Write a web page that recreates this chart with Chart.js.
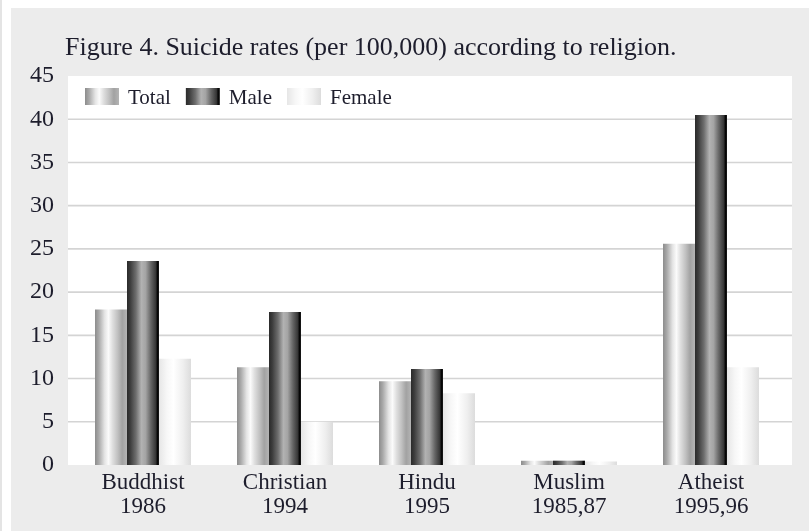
<!DOCTYPE html>
<html>
<head>
<meta charset="utf-8">
<script src="https://cdn.jsdelivr.net/npm/chart.js@4"></script>
<style>
  html, body { margin: 0; padding: 0; background: #fff; }
  #wrap { position: relative; width: 809px; height: 531px; }
</style>
</head>
<body>
<div id="wrap"><canvas id="religionChart" width="809" height="531"></canvas></div>
<script>
// Suicide rates (per 100,000) according to religion
const categories = [
    ['Buddhist', '1986'],
    ['Christian', '1994'],
    ['Hindu', '1995'],
    ['Muslim', '1985,87'],
    ['Atheist', '1995,96'],
];
const seriesNames = ['Total', 'Male', 'Female'];
const totalRates = [18.0, 11.3, 9.7, 0.5, 25.6];
const maleRates = [23.6, 17.7, 11.1, 0.5, 40.5];
const femaleRates = [12.3, 5.0, 8.3, 0.4, 11.3];
const yTicks = [0, 5, 10, 15, 20, 25, 30, 35, 40, 45];

const titleText = 'Figure 4. Suicide rates (per 100,000) according to religion.';
const textColor = '#1d1d2c';
const serif = 'Liberation Serif';
const CAT_PCT = 0.676;

// cylinder-ish shading, one per series
const shades = [
    [[0, '#8c8c8c'], [0.12, '#a9a9a9'], [0.3, '#e4e4e4'], [0.42, '#fbfbfb'], [0.55, '#dedede'], [0.7, '#c2c2c2'], [0.85, '#a2a2a2'], [1, '#b4b4b4']],
    [[0, '#2a2a2a'], [0.1, '#3c3c3c'], [0.28, '#6e6e6e'], [0.45, '#b2b2b2'], [0.58, '#a4a4a4'], [0.75, '#646464'], [0.9, '#363636'], [0.95, '#050505'], [1, '#1a1a1a']],
    [[0, '#e6e6e6'], [0.25, '#f7f7f7'], [0.45, '#ffffff'], [0.75, '#efefef'], [1, '#dcdcdc']],
];
const flatShades = ['#c4c4c4', '#6a6a6a', '#efefef'];

function makeGradient(ctx, left, width, stops) {
    const g = ctx.createLinearGradient(left, 0, left + width, 0);
    stops.forEach(s => g.addColorStop(s[0], s[1]));
    return g;
}

function barFill(context) {
    const chart = context.chart;
    const xs = chart.scales.x;
    const ds = context.datasetIndex;
    if (!xs || !chart.chartArea || context.dataIndex === undefined) return flatShades[ds];
    const catW = xs.width / categories.length;
    const barW = catW * CAT_PCT / seriesNames.length;
    const center = xs.getPixelForValue(context.dataIndex);
    const left = center - catW * CAT_PCT / 2 + ds * barW;
    return makeGradient(chart.ctx, left, barW, shades[ds]);
}

const backdropPlugin = {
    id: 'backdrop',
    beforeDraw(chart) {
        const { ctx, chartArea: a, scales } = chart;
        ctx.save();
        ctx.fillStyle = '#ffffff';
        ctx.fillRect(0, 0, chart.width, chart.height);
        ctx.fillStyle = '#e4e4e4';
        ctx.fillRect(0, 0, 2, chart.height);
        ctx.fillStyle = '#ececec';
        ctx.fillRect(11, 8, chart.width - 11, chart.height - 8);
        // white plot panel
        ctx.fillStyle = '#ffffff';
        ctx.fillRect(a.left - 4, a.top, a.right - a.left + 14, a.bottom - a.top);
        // grid lines
        ctx.strokeStyle = '#d4d4d4';
        ctx.lineWidth = 1.6;
        scales.y.ticks.forEach(t => {
            if (t.value <= 0 || t.value >= 45) return;
            const y = scales.y.getPixelForValue(t.value);
            ctx.beginPath();
            ctx.moveTo(a.left - 4, y);
            ctx.lineTo(a.right + 10, y);
            ctx.stroke();
        });
        ctx.restore();
    },
    afterDraw(chart) {
        const { ctx, chartArea: a } = chart;
        ctx.save();
        ctx.fillStyle = textColor;
        ctx.font = '26px "' + serif + '"';
        ctx.textBaseline = 'alphabetic';
        ctx.fillText(titleText, 65, 55);

        // legend inside the plot, top left
        ctx.font = '21px "' + serif + '"';
        let x = a.left + 13;
        const boxY = 88, boxW = 34, boxH = 17;
        seriesNames.forEach((name, i) => {
            ctx.fillStyle = makeGradient(ctx, x, boxW, shades[i]);
            ctx.fillRect(x, boxY, boxW, boxH);
            ctx.fillStyle = textColor;
            ctx.fillText(name, x + boxW + 9, boxY + 16);
            x += boxW + 9 + ctx.measureText(name).width + 15;
        });
        ctx.restore();
    },
};

new Chart(document.getElementById('religionChart'), {
    type: 'bar',
    data: {
        labels: categories,
        datasets: [
            { label: seriesNames[0], data: totalRates, backgroundColor: barFill },
            { label: seriesNames[1], data: maleRates, backgroundColor: barFill },
            { label: seriesNames[2], data: femaleRates, backgroundColor: barFill },
        ],
    },
    options: {
        responsive: false,
        animation: false,
        devicePixelRatio: 1,
        layout: { padding: { top: 76, right: 27, bottom: 0, left: 0 } },
        datasets: {
            bar: { categoryPercentage: CAT_PCT, barPercentage: 1, borderWidth: 0 },
        },
        plugins: {
            legend: { display: false },
            tooltip: { enabled: false },
        },
        scales: {
            x: {
                grid: { display: false, drawTicks: false, tickLength: 0 },
                border: { display: false },
                ticks: {
                    color: textColor,
                    font: { family: serif, size: 23, lineHeight: 1.05 },
                    padding: 6,
                    maxRotation: 0,
                    autoSkip: false,
                },
                afterFit(scale) { scale.height = 66; },
            },
            y: {
                min: 0,
                max: 45,
                afterBuildTicks(scale) { scale.ticks = yTicks.map(v => ({ value: v })); },
                grid: { display: false, drawTicks: false, tickLength: 0 },
                border: { display: false },
                ticks: {
                    color: textColor,
                    font: { family: serif, size: 24 },
                    padding: 18,
                },
                afterFit(scale) { scale.width = 72; },
            },
        },
    },
    plugins: [backdropPlugin],
});
</script>
</body>
</html>
